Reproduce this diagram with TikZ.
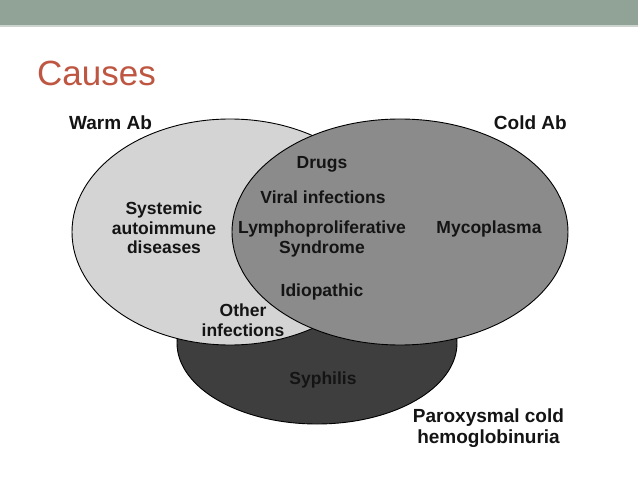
\documentclass[tikz,border=0pt]{standalone}
\usepackage{fontspec}
\setmainfont{Liberation Sans}
\definecolor{banner}{RGB}{145,162,151}
\definecolor{bannerline}{RGB}{205,212,207}
\definecolor{titlered}{RGB}{190,86,66}
\definecolor{warmfill}{RGB}{212,212,212}
\definecolor{coldfill}{RGB}{139,139,139}
\definecolor{pchfill}{RGB}{62,62,62}
\definecolor{txt}{RGB}{20,20,20}
\begin{document}
\begin{tikzpicture}[x=1pt,y=-1pt,
  lbl/.style={font=\bfseries\fontsize{17.5}{19.5}\selectfont, text=txt, align=center, inner sep=0pt, anchor=north},
  outer/.style={font=\bfseries\fontsize{19}{21}\selectfont, text=txt, align=center, inner sep=0pt},
  setshape/.style={draw=black, line width=0.9pt}]
\useasboundingbox (0,0) rectangle (638,479);
\fill[white] (0,0) rectangle (638,479);
\fill[banner] (0,0) rectangle (638,25);
\fill[bannerline] (0,25) rectangle (638,27);
\node[font=\fontsize{35}{40}\selectfont, text=titlered, anchor=base west, inner sep=0pt] (title) at (37,85) {Causes};
% sets
\draw[setshape, fill=pchfill] (317,343) ellipse [x radius=140, y radius=81];
\draw[setshape, fill=warmfill] (230,232) ellipse [x radius=158, y radius=113];
\draw[setshape, fill=coldfill] (400,232) ellipse [x radius=168, y radius=113];
% labels
\node[outer, anchor=base west] (warm) at (69,129) {Warm Ab};
\node[outer, anchor=base east] (cold) at (567,129) {Cold Ab};
\node[outer, anchor=north] (pch) at (488.5,408.5) {Paroxysmal cold\\hemoglobinuria};
\node[lbl] (sys) at (164,202) {Systemic\\autoimmune\\diseases};
\node[lbl, anchor=base] (drugs) at (322,168) {Drugs};
\node[lbl, anchor=base] (viral) at (323,203) {Viral infections};
\node[lbl] (lympho) at (322,221) {Lymphoproliferative\\Syndrome};
\node[lbl, anchor=base] (idio) at (322,296) {Idiopathic};
\node[lbl, anchor=base] (myco) at (489,233) {Mycoplasma};
\node[lbl] (other) at (243,304) {Other\\infections};
\node[lbl, anchor=base] (syph) at (323,384) {Syphilis};
\end{tikzpicture}
\end{document}
